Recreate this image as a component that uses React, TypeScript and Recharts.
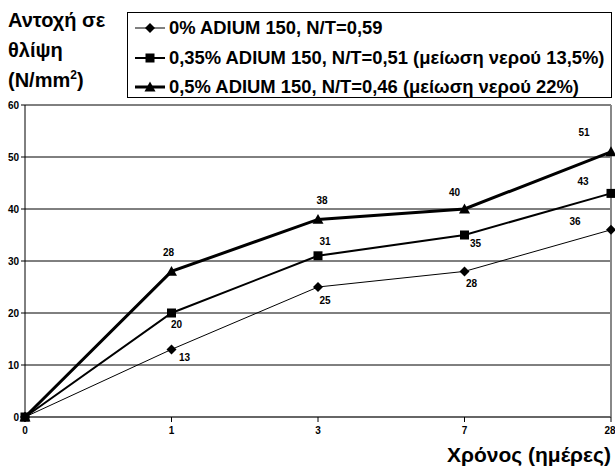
import { LineChart, Line, XAxis, YAxis, CartesianGrid, LabelList, ReferenceLine, Legend } from 'recharts';

const days = ['0', '1', '3', '7', '28'];
const plain = [0, 13, 25, 28, 36];
const adium035 = [0, 20, 31, 35, 43];
const adium05 = [0, 28, 38, 40, 51];
const seriesNames = [
    '0% ADIUM 150, N/T=0,59',
    '0,35% ADIUM 150, N/T=0,51 (μείωση νερού 13,5%)',
    '0,5% ADIUM 150, N/T=0,46 (μείωση νερού 22%)'
];
const yTicks = [0, 10, 20, 30, 40, 50, 60];

const data = days.map((d, i) => ({ day: d, s0: plain[i], s35: adium035[i], s50: adium05[i] }));

// label offsets (dx, dy) per point, picked by eye
const offsets0 = [[0, 0], [13, 8], [7, 13], [7, 12], [-36, -8]];
const offsets35 = [[0, 0], [5, 11], [7, -14], [11, 8], [-28, -12]];
const offsets50 = [[0, 0], [-3, -19], [4, -19], [-10, -17], [-27, -19]];

const FONT = 'Arial, "Liberation Sans", sans-serif';

const Diamond = ({ cx, cy, s = 5 }: any) => (
    <polygon points={`${cx},${cy - s} ${cx + s},${cy} ${cx},${cy + s} ${cx - s},${cy}`} fill="#000" />
);
const Square = ({ cx, cy, s = 4.5 }: any) => (
    <rect x={cx - s} y={cy - s} width={s * 2} height={s * 2} fill="#000" />
);
const Triangle = ({ cx, cy, s = 5.5 }: any) => (
    <polygon points={`${cx},${cy - s} ${cx + s},${cy + s * 0.8} ${cx - s},${cy + s * 0.8}`} fill="#000" />
);

const makeLabel = (offs: number[][]) => (props: any) => {
    const { x, y, value, index } = props;
    if (index === 0) return null;
    const [dx, dy] = offs[index];
    return (
        <text x={x + dx} y={y + dy} textAnchor="middle" dominantBaseline="central"
            fontSize={10} fontWeight="bold" fontFamily={FONT} fill="#000">
            {value}
        </text>
    );
};

const markers = [Diamond, Square, Triangle];
const widths = [1, 2, 3];

const LegendBox = () => (
    <div style={{
        position: 'absolute', left: 127, top: 12, width: 485, height: 86,
        border: '1px solid #000', background: '#fff', fontFamily: FONT,
        fontWeight: 'bold', fontSize: 18.4, boxSizing: 'border-box'
    }}>
        {seriesNames.map((name, i) => {
            const M = markers[i];
            return (
                <div key={name} style={{ position: 'absolute', left: 6, top: 4 + i * 29.5, height: 22, display: 'flex', alignItems: 'center', whiteSpace: 'nowrap' }}>
                    <svg width={32} height={14} style={{ marginRight: 3 }}>
                        <line x1={1} y1={7} x2={31} y2={7} stroke="#000" strokeWidth={widths[i]} />
                        <M cx={16} cy={7} />
                    </svg>
                    <span>{name}</span>
                </div>
            );
        })}
    </div>
);

export default function App() {
    return (
        <div style={{ position: 'absolute', left: 0, top: 0, width: 615, height: 471, background: '#fff', overflow: 'hidden' }}>
            <LineChart width={615} height={471} data={data} margin={{ top: 105, right: 4, left: 0, bottom: 34 }}>
                <CartesianGrid horizontal vertical={false} stroke="#000" strokeWidth={1} />
                <XAxis dataKey="day" type="category" stroke="#666" strokeWidth={2} tickSize={5} height={20}
                    tick={{ fontSize: 10, fontWeight: 'bold', fontFamily: FONT, fill: '#000', dy: 3 }} tickLine={{ stroke: '#000', strokeWidth: 1 }} />
                <YAxis ticks={yTicks} domain={[0, 60]} width={25} stroke="#000" tickSize={4}
                    tick={{ fontSize: 10, fontWeight: 'bold', fontFamily: FONT, fill: '#000' }} interval={0} />
                <ReferenceLine x="28" stroke="#888" strokeWidth={2} />
                <Legend content={() => null} />
                <Line dataKey="s0" name={seriesNames[0]} stroke="#000" strokeWidth={1} isAnimationActive={false}
                    dot={(p: any) => <Diamond key={p.index} cx={p.cx} cy={p.cy} />}>
                    <LabelList dataKey="s0" content={makeLabel(offsets0)} />
                </Line>
                <Line dataKey="s50" name={seriesNames[2]} stroke="#000" strokeWidth={3} isAnimationActive={false}
                    dot={(p: any) => <Triangle key={p.index} cx={p.cx} cy={p.cy} />}>
                    <LabelList dataKey="s50" content={makeLabel(offsets50)} />
                </Line>
                <Line dataKey="s35" name={seriesNames[1]} stroke="#000" strokeWidth={2} isAnimationActive={false}
                    dot={(p: any) => <Square key={p.index} cx={p.cx} cy={p.cy} />}>
                    <LabelList dataKey="s35" content={makeLabel(offsets35)} />
                </Line>
            </LineChart>
            <div style={{ position: 'absolute', left: 8, top: 5, fontFamily: FONT, fontWeight: 'bold', fontSize: 20, lineHeight: '30px', color: '#000' }}>
                <div>Αντοχή σε</div>
                <div>θλίψη</div>
                <div>(N/mm<sup style={{ fontSize: 12, lineHeight: 0 }}>2</sup>)</div>
            </div>
            <LegendBox />
            <div style={{ position: 'absolute', right: 4, top: 443, fontFamily: FONT, fontWeight: 'bold', fontSize: 21, color: '#000' }}>
                Χρόνος (ημέρες)
            </div>
        </div>
    );
}
